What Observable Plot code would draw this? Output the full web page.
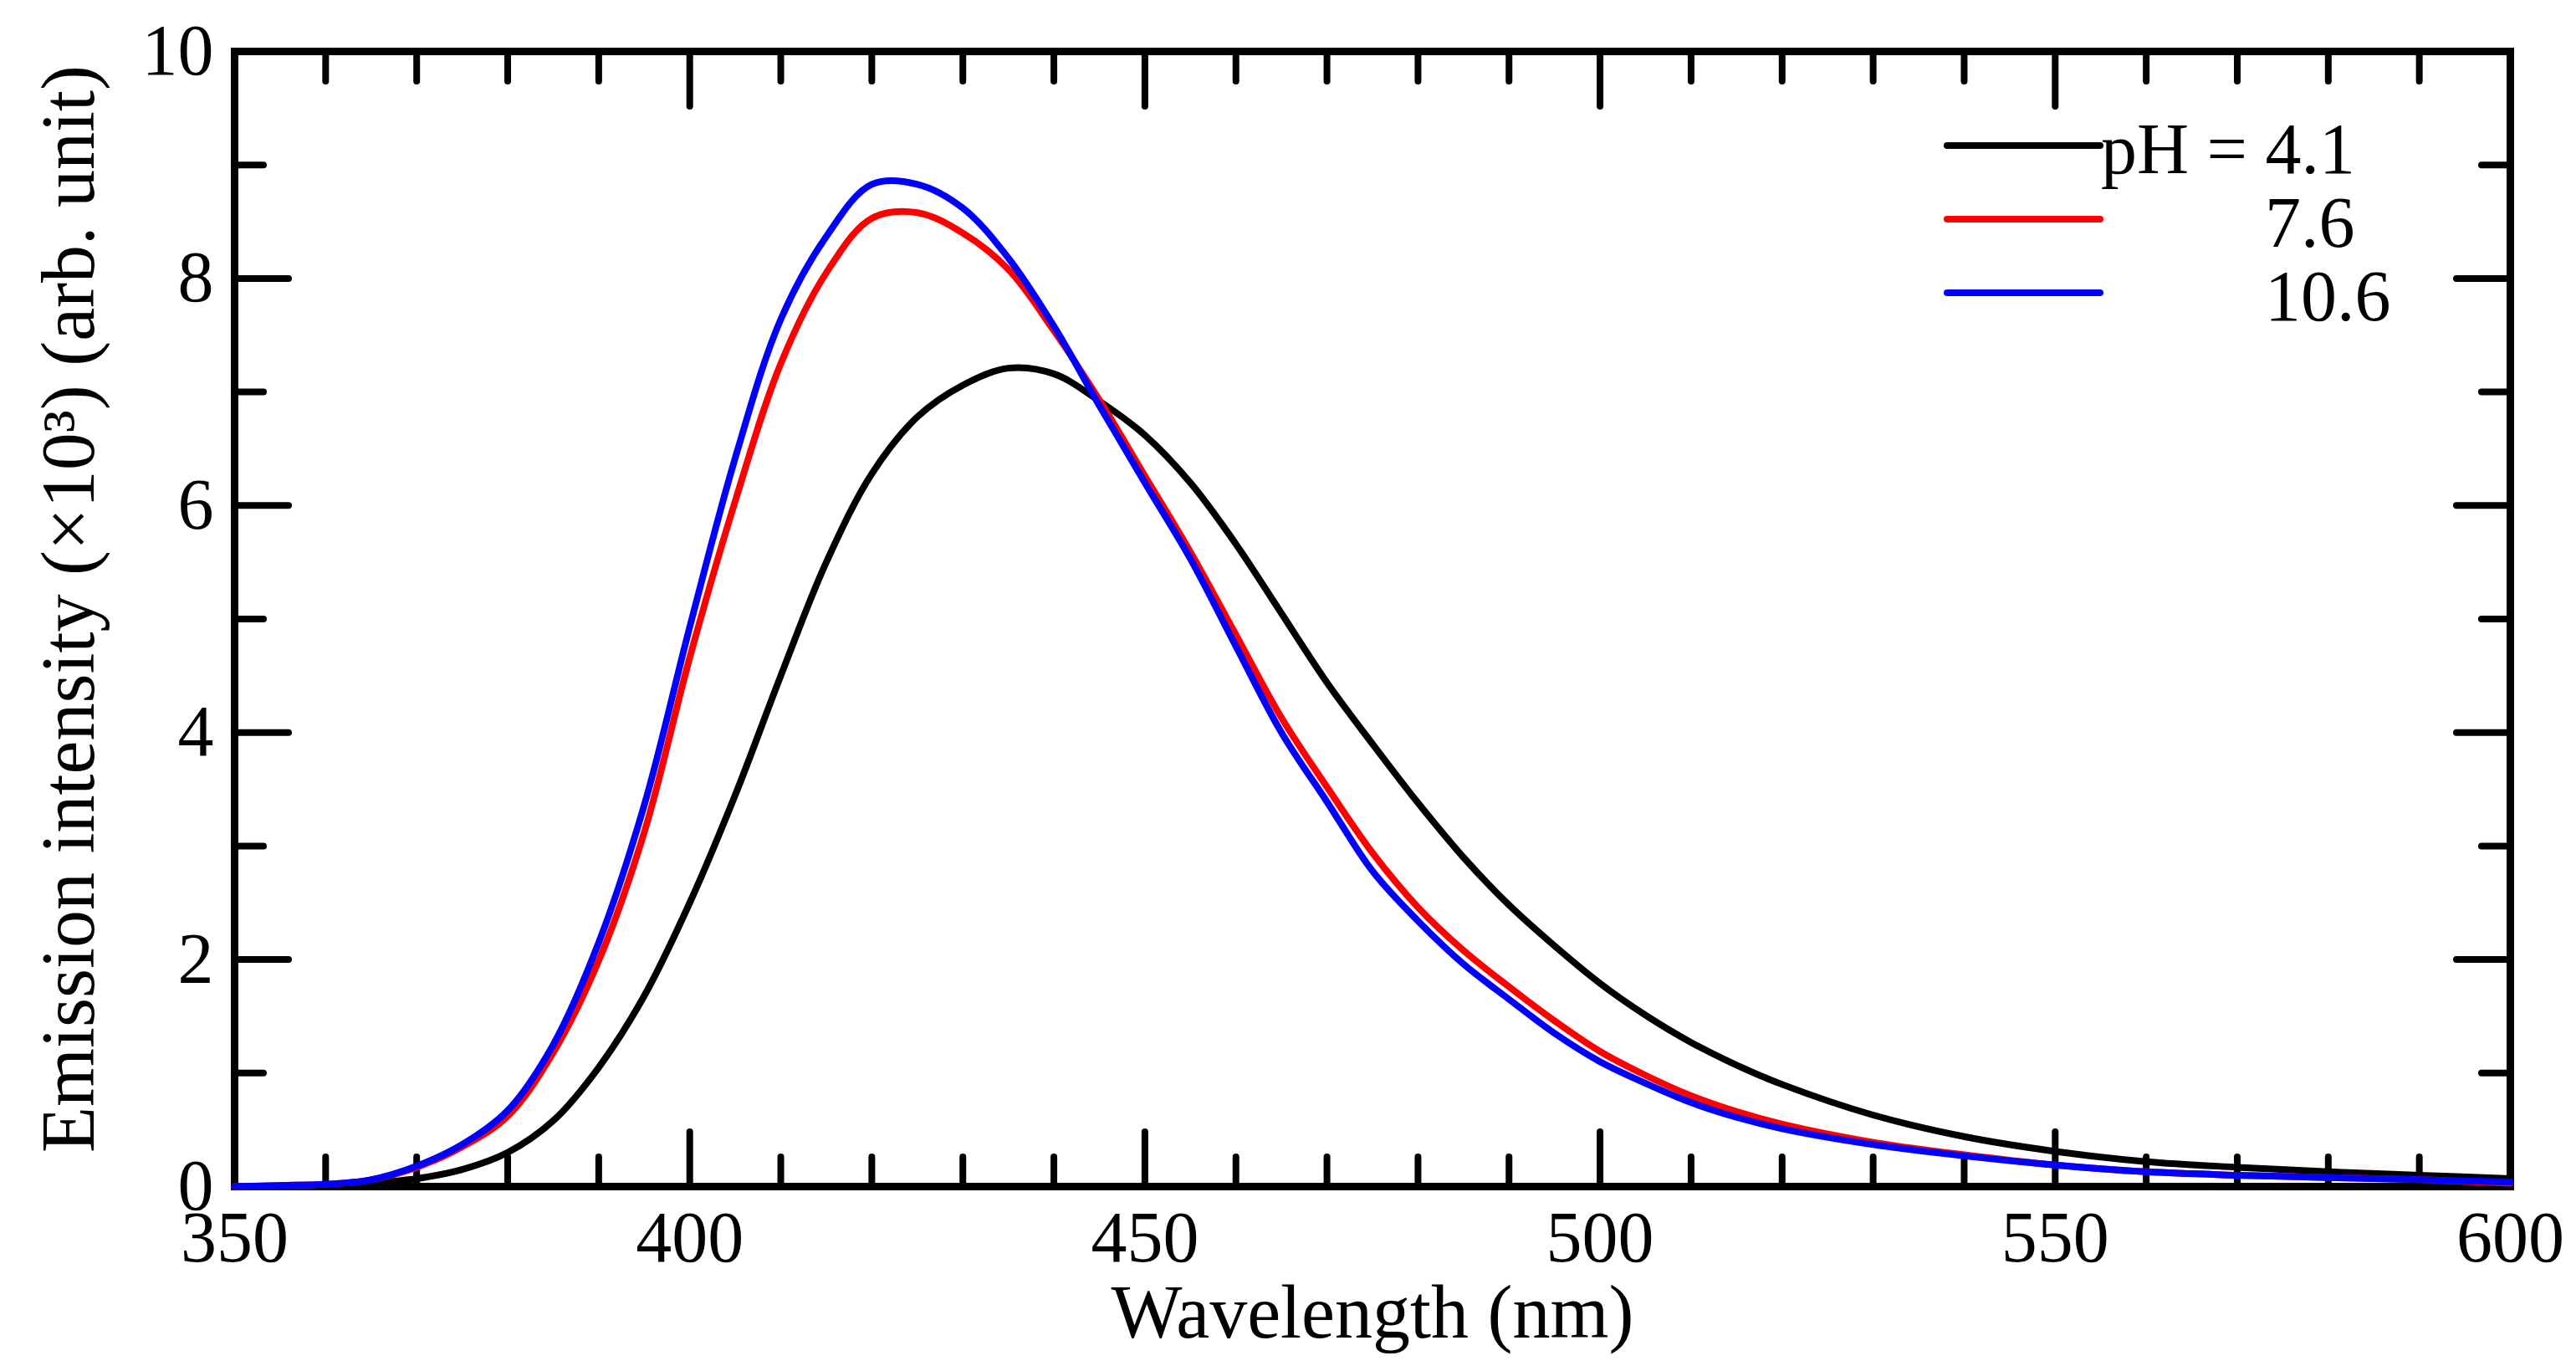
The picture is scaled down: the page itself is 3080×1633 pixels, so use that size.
<!DOCTYPE html>
<html>
<head>
<meta charset="utf-8">
<script src="https://cdn.jsdelivr.net/npm/d3@7"></script>
<script src="https://cdn.jsdelivr.net/npm/@observablehq/plot@0.6"></script>
<style>
  body { margin: 0; background: #fff; }
</style>
</head>
<body>
<div id="chart"></div>
<script>
// emission spectra (intensity in units of 10^3)
const wavelength = [
  350, 355, 360, 365, 370, 375, 380, 385, 390, 395,
  400, 405, 410, 415, 420, 425, 430, 435, 440, 445,
  450, 455, 460, 465, 470, 475, 480, 485, 490, 495,
  500, 505, 510, 515, 520, 530, 540, 550, 560, 570, 580, 590, 600
];
const ph41 = [
  0, 0, 0.01, 0.03, 0.07, 0.15, 0.30, 0.58, 1.05, 1.68,
  2.50, 3.45, 4.50, 5.50, 6.28, 6.78, 7.06, 7.21, 7.16, 6.92,
  6.62, 6.20, 5.66, 5.05, 4.44, 3.90, 3.38, 2.90, 2.48, 2.12,
  1.79, 1.51, 1.27, 1.07, 0.90, 0.63, 0.44, 0.31, 0.22, 0.17, 0.13, 0.10, 0.07
];
const ph76 = [
  0, 0.01, 0.02, 0.06, 0.17, 0.35, 0.62, 1.18, 1.99, 3.12,
  4.66, 6.04, 7.25, 8.05, 8.53, 8.58, 8.40, 8.08, 7.54, 6.93,
  6.26, 5.59, 4.86, 4.13, 3.52, 2.94, 2.46, 2.08, 1.76, 1.46,
  1.19, 0.98, 0.80, 0.66, 0.55, 0.39, 0.28, 0.19, 0.13, 0.10, 0.08, 0.06, 0.03
];
const ph106 = [
  0, 0.01, 0.02, 0.06, 0.18, 0.37, 0.67, 1.25, 2.15, 3.36,
  4.93, 6.42, 7.64, 8.37, 8.83, 8.83, 8.62, 8.18, 7.58, 6.88,
  6.20, 5.53, 4.76, 4.00, 3.39, 2.78, 2.34, 1.96, 1.65, 1.35,
  1.10, 0.91, 0.74, 0.61, 0.51, 0.37, 0.27, 0.19, 0.13, 0.10, 0.08, 0.06, 0.04
];

const seriesKeys = ["4.1", "7.6", "10.6"];
const seriesLabels = ["pH = 4.1", "7.6", "10.6"];
const seriesColors = ["#000000", "#ff0000", "#0000ff"];

const xMajor = [350, 400, 450, 500, 550, 600];
const xMinor = [360, 370, 380, 390, 410, 420, 430, 440, 460, 470, 480, 490,
                510, 520, 530, 540, 560, 570, 580, 590];
const yMajor = [0, 2, 4, 6, 8, 10];
const yMinor = [1, 3, 5, 7, 9];

const xLabel = "Wavelength (nm)";
const yLabel = "Emission intensity (×10³) (arb. unit)";

const font = "'Liberation Serif', 'Times New Roman', serif";

const rows = (vals, key) => wavelength.map((w, i) => ({ w, v: vals[i], key }));
const series = [rows(ph41, "4.1"), rows(ph76, "7.6"), rows(ph106, "10.6")];

// legend drawn inside the frame, top right
const legend = () => {
  const g = d3.create("svg:g")
    .attr("font-family", font)
    .attr("font-size", 86)
    .attr("text-anchor", "start");
  const ys = [174, 262, 350];
  const textX = [2512, 2708, 2708];
  seriesLabels.forEach((label, i) => {
    g.append("line")
      .attr("x1", 2328).attr("x2", 2511)
      .attr("y1", ys[i]).attr("y2", ys[i])
      .attr("stroke", seriesColors[i])
      .attr("stroke-width", 8)
      .attr("stroke-linecap", "round");
    g.append("text")
      .attr("x", textX[i])
      .attr("y", ys[i] + 33)
      .attr("fill", "black")
      .text(label);
  });
  return g.node();
};

const tickStyle = { strokeWidth: 8, strokeLinecap: "round", text: null, label: null };

const chart = Plot.plot({
  width: 3080,
  height: 1633,
  marginTop: 61,
  marginRight: 79,
  marginBottom: 215,
  marginLeft: 280,
  style: { background: "#fff", fontFamily: font, color: "black", overflow: "visible" },
  x: { domain: [350, 600] },
  y: { domain: [0, 10] },
  color: { domain: seriesKeys, range: seriesColors },
  marks: [
    // inward ticks on all four sides
    Plot.axisX(xMajor, { anchor: "bottom", tickSize: -65, ...tickStyle }),
    Plot.axisX(xMinor, { anchor: "bottom", tickSize: -35, ...tickStyle }),
    Plot.axisX(xMajor, { anchor: "top", tickSize: -65, ...tickStyle }),
    Plot.axisX(xMinor, { anchor: "top", tickSize: -35, ...tickStyle }),
    Plot.axisY(yMajor, { anchor: "left", tickSize: -65, ...tickStyle }),
    Plot.axisY(yMinor, { anchor: "left", tickSize: -35, ...tickStyle }),
    Plot.axisY(yMajor, { anchor: "right", tickSize: -65, ...tickStyle }),
    Plot.axisY(yMinor, { anchor: "right", tickSize: -35, ...tickStyle }),
    // tick labels
    Plot.axisX(xMajor, { anchor: "bottom", tickSize: 0, tickPadding: 28, fontSize: 86, label: null, tickFormat: (d) => String(d) }),
    Plot.axisY(yMajor, { anchor: "left", tickSize: 0, tickPadding: 25, fontSize: 86, label: null, tickFormat: (d) => String(d) }),
    Plot.frame({ stroke: "black", strokeWidth: 9 }),
    ...series.map((d) =>
      Plot.line(d, {
        x: "w",
        y: "v",
        stroke: "key",
        strokeWidth: 8,
        curve: "catmull-rom"
      })
    ),
    Plot.text([xLabel], {
      frameAnchor: "bottom",
      dy: 152,
      lineAnchor: "middle",
      textAnchor: "middle",
      fontSize: 90,
      fill: "black"
    }),
    Plot.text([yLabel], {
      frameAnchor: "left",
      rotate: -90,
      dx: -197,
      dy: -12,
      lineAnchor: "middle",
      textAnchor: "middle",
      fontSize: 90,
      fill: "black"
    }),
    legend
  ]
});

document.getElementById("chart").append(chart);
</script>
</body>
</html>
